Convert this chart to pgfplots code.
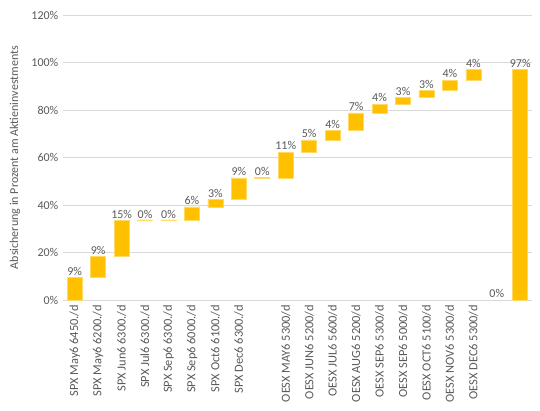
\documentclass[border=0pt]{standalone}
\usepackage{fontspec}
\setmainfont{Carlito}
\usepackage{pgfplots}
\usepackage{pgfplotstable}
\pgfplotsset{compat=1.18}
\definecolor{gold}{HTML}{FFC000}
\definecolor{goldedge}{HTML}{FFD966}
\definecolor{txt}{HTML}{595959}
\definecolor{gridc}{HTML}{D9D9D9}

\pgfplotstableread{
x base inc top lab
1 0 9.4 9.4 9
2 9.4 8.8 18.2 9
3 18.2 15.2 33.4 15
4 33.4 0.3 33.4 0
5 33.4 0.3 33.4 0
6 33.4 5.8 39.2 6
7 39.2 3.0 42.2 3
8 42.2 9.2 51.4 9
9 51.4 0.3 51.4 0
10 51.4 10.8 62.2 11
11 62.2 5.2 67.4 5
12 67.4 4.0 71.4 4
13 71.4 7.4 78.8 7
14 78.8 3.6 82.4 4
15 82.4 2.8 85.2 3
16 85.2 2.9 88.1 3
17 88.1 4.4 92.5 4
18 92.5 4.5 97.0 4
19 0 0 0 0
20 0 97 97 97
}\data

\pgfplotsset{
  common/.style={
    at={(0,0)}, anchor=south west,
    scale only axis, width=351.75pt, height=213.75pt,
    xmin=0.5, xmax=20.5, ymin=0, ymax=120,
    clip=false,
  }
}

\begin{document}
\begin{tikzpicture}
\useasboundingbox (-47.25pt,-83.25pt) rectangle (357.75pt,225pt);
\begin{axis}[
 common,
 ybar stacked, bar width=11.25pt,
 xtick={1,...,20},
 xticklabels={SPX May6 6450./d,SPX May6 6200./d,SPX Jun6 6300./d,SPX Jul6 6300./d,SPX Sep6 6300./d,SPX Sep6 6000./d,SPX Oct6 6100./d,SPX Dec6 6300./d,,OESX MAY6 5300/d,OESX JUN6 5200/d,OESX JUL6 5600/d,OESX AUG6 5200/d,OESX SEP6 5300/d,OESX SEP6 5000/d,OESX OCT6 5100/d,OESX NOV6 5300/d,OESX DEC6 5300/d,,},
 ytick={0,20,...,120},
 yticklabels={0\%,20\%,40\%,60\%,80\%,100\%,120\%},
 ymajorgrids, grid style={gridc, line width=0.6pt},
 axis line style={draw=none},
 major tick length=0pt,
 tick label style={font=\fontsize{9}{10}\selectfont, text=txt},
 xticklabel style={rotate=90, anchor=east, font=\fontsize{9.3}{10}\selectfont},
 ylabel={Absicherung in Prozent am Aktieninvestments},
 ylabel style={font=\fontsize{9}{10}\selectfont, text=txt, at={(axis description cs:-0.1023,0.5)}, anchor=center},
]
\addplot[draw=none, fill=none, forget plot] table[x=x,y=base]{\data};
\addplot[fill=gold, draw=goldedge, line width=0.5pt] table[x=x,y=inc]{\data};
\end{axis}
\begin{axis}[
 common,
 hide axis,
]
\addplot[draw=none, mark=none,
  nodes near coords={\pgfplotspointmeta\%},
  point meta=explicit symbolic,
  every node near coord/.style={font=\fontsize{9}{10}\selectfont, text=txt, anchor=south, inner sep=1.5pt}]
  table[x=x,y=top,meta=lab]{\data};
\end{axis}
\end{tikzpicture}
\end{document}
